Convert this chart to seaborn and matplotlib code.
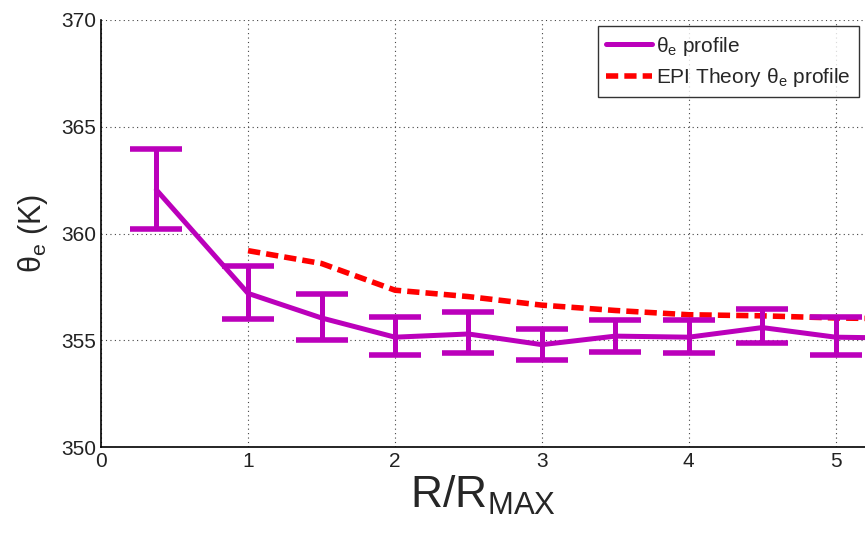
import numpy as np
import pandas as pd
import seaborn as sns
import matplotlib.pyplot as plt
from matplotlib import font_manager

# observed theta_e profile (mean and error bar ends)
r_obs = [0.375, 1.0, 1.5, 2.0, 2.5, 3.0, 3.5, 4.0, 4.5, 5.0, 5.5]
theta_obs = [362.05, 357.2, 356.05, 355.15, 355.3, 354.8, 355.2, 355.15, 355.6, 355.15, 355.1]
err_hi = [363.95, 358.5, 357.15, 356.1, 356.35, 355.55, 355.95, 355.95, 356.45, 356.1, np.nan]
err_lo = [360.2, 356.0, 355.0, 354.3, 354.4, 354.1, 354.45, 354.4, 354.9, 354.3, np.nan]

# EPI theory profile
r_epi = [1.0, 1.5, 2.0, 2.5, 3.0, 3.5, 4.0, 4.5, 5.0, 5.5]
theta_epi = [359.2, 358.6, 357.35, 357.05, 356.65, 356.4, 356.2, 356.15, 356.05, 356.0]

obs_df = pd.DataFrame({'r': r_obs, 'theta': theta_obs, 'hi': err_hi, 'lo': err_lo})
epi_df = pd.DataFrame({'r': r_epi, 'theta': theta_epi})

sns.set_style('white')
plt.rcParams['font.family'] = ['Liberation Sans', 'DejaVu Sans']
plt.rcParams['mathtext.fontset'] = 'custom'
plt.rcParams['mathtext.rm'] = 'Liberation Sans'
plt.rcParams['mathtext.it'] = 'Liberation Sans'

names = {f.name for f in font_manager.fontManager.ttflist}
narrow = 'Liberation Sans Narrow' if 'Liberation Sans Narrow' in names else 'Liberation Sans'

magenta = '#BB00BB'
fig = plt.figure(figsize=(8.65, 5.33), dpi=100)
ax = fig.add_axes([0.117, 0.161, 0.883, 0.8015])

sns.lineplot(data=obs_df, x='r', y='theta', color=magenta, lw=3.6, ax=ax,
             label=r'$\mathregular{\theta_e}$ profile')
sns.lineplot(data=epi_df, x='r', y='theta', color='#FF0000', lw=4.0, ax=ax,
             linestyle=(0, (2.2, 1.1)), label=r'EPI Theory $\mathregular{\theta_e}$ profile')

eb = obs_df.dropna()
ax.errorbar(eb['r'], eb['theta'], yerr=[eb['theta'] - eb['lo'], eb['hi'] - eb['theta']],
            fmt='none', ecolor=magenta, elinewidth=3.6, capsize=19, capthick=4.0)

ax.set_xlim(0, 5.2)
ax.set_ylim(350, 370)
ax.set_xticks([0, 1, 2, 3, 4, 5])
ax.set_yticks([350, 355, 360, 365, 370])
ax.tick_params(direction='in', length=4, labelsize=15, colors='#222222')
for lab in ax.get_xticklabels() + ax.get_yticklabels():
    lab.set_family(narrow)
ax.grid(True, linestyle=(0, (1, 3)), color='#444444', lw=0.8)
for s in ['top', 'right']:
    ax.spines[s].set_visible(False)
for s in ['left', 'bottom']:
    ax.spines[s].set_color('black')
    ax.spines[s].set_linewidth(1.2)

plt.rcParams['mathtext.rm'] = narrow
ax.set_xlabel(r'$\mathregular{R/R_{MAX}}$', fontsize=32, labelpad=2, family=narrow)
ax.set_ylabel(r'$\mathregular{\theta_e}$ (K)', fontsize=22, labelpad=8)

leg = ax.legend(loc='upper right', fontsize=15, frameon=True, fancybox=False,
                handlelength=2.2, handletextpad=0.2, borderpad=0.4,
                labelspacing=0.4, borderaxespad=0.3)
leg.get_frame().set_edgecolor('black')
leg.get_frame().set_linewidth(1.0)

fig.savefig('out.png', dpi=100)
